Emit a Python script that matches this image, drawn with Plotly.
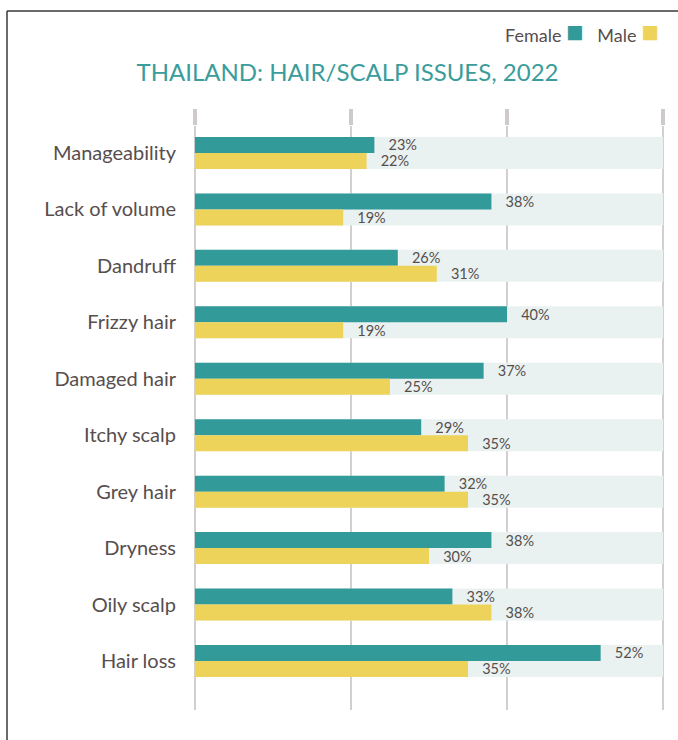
import plotly.graph_objects as go

categories = ["Manageability", "Lack of volume", "Dandruff", "Frizzy hair", "Damaged hair",
              "Itchy scalp", "Grey hair", "Dryness", "Oily scalp", "Hair loss"]
female = [23, 38, 26, 40, 37, 29, 32, 38, 33, 52]
male = [22, 19, 31, 19, 25, 35, 35, 30, 38, 35]
background_max = [60] * len(categories)
x_ticks = [0, 20, 40, 60]

TEAL = "#339a9a"
YELLOW = "#edd35a"
BG = "#e9f2f0"
TXT = "#574e4e"
FONT = "Lato"

W, H = 678, 740
L, R, T, B = 191, 11, 126, 30
pw, ph = W - L - R, H - T - B

bw = 0.2835

fig = go.Figure()
fig.add_trace(go.Bar(
    y=categories, x=background_max, orientation="h", width=bw * 2, offset=-bw,
    marker=dict(color=BG, line=dict(width=0)), hoverinfo="skip", showlegend=False))
fig.add_trace(go.Bar(
    y=categories, x=female, orientation="h", width=bw, offset=-bw, name="Female",
    marker=dict(color=TEAL, line=dict(width=0)),
    text=[f"\u00a0\u00a0\u00a0{v}%" for v in female], textposition="outside",
    constraintext="none", cliponaxis=False,
    textfont=dict(family=FONT, size=14.5, color=TXT), showlegend=False))
fig.add_trace(go.Bar(
    y=categories, x=male, orientation="h", width=bw, offset=0, name="Male",
    marker=dict(color=YELLOW, line=dict(width=0)),
    text=[f"\u00a0\u00a0\u00a0{v}%" for v in male], textposition="outside",
    constraintext="none", cliponaxis=False,
    textfont=dict(family=FONT, size=14.5, color=TXT), showlegend=False))

def px_x(p):
    return (p - L) / pw

def px_y(p):
    return (H - B - p) / ph

shapes = [
    dict(type="line", xref="paper", yref="paper", x0=px_x(7), x1=px_x(7),
         y0=px_y(11), y1=px_y(745), line=dict(color="#3a3a3a", width=1.5)),
    dict(type="line", xref="paper", yref="paper", x0=px_x(7), x1=px_x(690),
         y0=px_y(11), y1=px_y(11), line=dict(color="#3a3a3a", width=1.5)),
]

legend_text = (f"Female <span style='color:{TEAL};font-size:29px'>■</span>"
               f"\u00a0\u00a0 Male <span style='color:{YELLOW};font-size:29px'>■</span>")

fig.update_layout(
    width=W, height=H,
    margin=dict(l=L, r=R, t=T, b=B, pad=0),
    paper_bgcolor="white", plot_bgcolor="white",
    barmode="overlay",
    font=dict(family=FONT, color=TXT),
    title=dict(text="THAILAND: HAIR/SCALP ISSUES, 2022", x=347.5 / W, xanchor="center",
               xref="container", yref="container", y=1 - 73 / H, yanchor="middle",
               font=dict(family=FONT, size=24, color="#3a9d9b")),
    xaxis=dict(range=[-0.5, 60.5], tickvals=x_ticks, showticklabels=False, side="top",
               showgrid=True, gridcolor="#d3cfcf", gridwidth=1.5, zeroline=False,
               ticks="outside", ticklen=16, tickwidth=4, tickcolor="#cfcaca",
               showline=False, fixedrange=True),
    yaxis=dict(categoryorder="array", categoryarray=categories, range=[9.869, -0.478],
               showgrid=False, zeroline=False, showline=False, ticks="",
               ticklabelstandoff=14,
               tickfont=dict(family=FONT, size=20, color=TXT)),
    shapes=shapes,
    annotations=[dict(text=legend_text, xref="paper", yref="paper", x=px_x(661), y=px_y(31),
                      xanchor="right", yanchor="middle", showarrow=False,
                      font=dict(family=FONT, size=18, color=TXT))],
)

fig.write_html("out.html")
